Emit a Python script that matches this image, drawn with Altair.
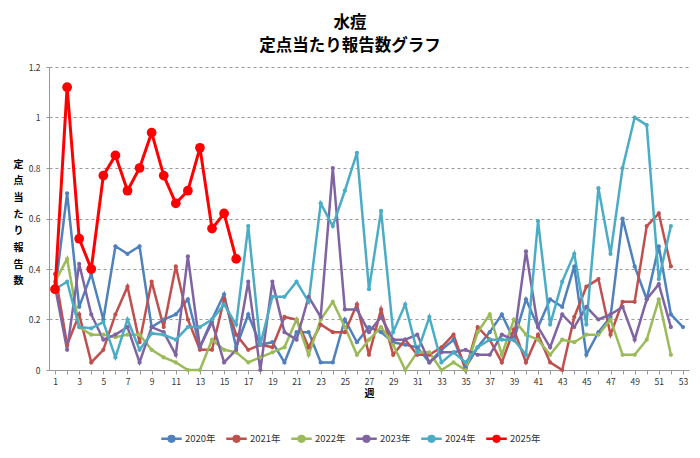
import altair as alt
import pandas as pd

weeks_all = list(range(1, 54))

y2020 = [0.31, 0.70, 0.25, 0.38, 0.20, 0.49, 0.46, 0.49, 0.17, 0.20, 0.22, 0.28, 0.09, 0.20, 0.30,
         0.09, 0.22, 0.10, 0.11, 0.03, 0.15, 0.15, 0.03, 0.03, 0.20, 0.11, 0.17, 0.15, 0.11, 0.10,
         0.09, 0.03, 0.08, 0.12, 0.01, 0.09, 0.15, 0.22, 0.12, 0.28, 0.17, 0.28, 0.25, 0.41, 0.06,
         0.15, 0.21, 0.60, 0.41, 0.28, 0.49, 0.22, 0.17]
y2021 = [0.38, 0.10, 0.22, 0.03, 0.08, 0.22, 0.33, 0.11, 0.35, 0.17, 0.41, 0.20, 0.08, 0.08, 0.28,
         0.14, 0.08, 0.10, 0.09, 0.21, 0.20, 0.09, 0.18, 0.15, 0.15, 0.26, 0.06, 0.24, 0.06, 0.12,
         0.06, 0.06, 0.09, 0.14, 0.00, 0.17, 0.12, 0.03, 0.16, 0.03, 0.14, 0.03, 0.00, 0.21, 0.33,
         0.36, 0.14, 0.27, 0.27, 0.57, 0.62, 0.41]
y2022 = [0.35, 0.44, 0.17, 0.14, 0.14, 0.13, 0.14, 0.14, 0.08, 0.05, 0.03, 0.00, 0.00, 0.12, 0.08,
         0.07, 0.03, 0.05, 0.07, 0.09, 0.20, 0.06, 0.20, 0.27, 0.17, 0.06, 0.12, 0.17, 0.10, 0.00,
         0.07, 0.07, 0.00, 0.03, 0.00, 0.15, 0.22, 0.06, 0.20, 0.14, 0.12, 0.06, 0.12, 0.11, 0.14,
         0.14, 0.20, 0.06, 0.06, 0.12, 0.28, 0.06]
y2023 = [0.33, 0.08, 0.42, 0.22, 0.12, 0.14, 0.17, 0.03, 0.17, 0.15, 0.06, 0.45, 0.09, 0.19, 0.03,
         0.08, 0.35, 0.00, 0.35, 0.15, 0.12, 0.29, 0.21, 0.80, 0.24, 0.24, 0.15, 0.21, 0.12, 0.12,
         0.14, 0.03, 0.07, 0.07, 0.08, 0.06, 0.06, 0.14, 0.12, 0.47, 0.17, 0.09, 0.22, 0.17, 0.25,
         0.20, 0.22, 0.25, 0.12, 0.28, 0.34, 0.17]
y2024 = [0.32, 0.35, 0.17, 0.165, 0.19, 0.05, 0.20, 0.08, 0.145, 0.14, 0.12, 0.17, 0.17, 0.20, 0.26,
         0.18, 0.57, 0.10, 0.29, 0.29, 0.35, 0.27, 0.66, 0.57, 0.71, 0.86, 0.32, 0.63, 0.15, 0.26,
         0.07, 0.21, 0.03, 0.07, 0.03, 0.09, 0.12, 0.12, 0.12, 0.06, 0.59, 0.18, 0.35, 0.46, 0.18,
         0.72, 0.46, 0.80, 1.00, 0.97, 0.36, 0.57]
y2025 = [0.32, 1.12, 0.52, 0.40, 0.77, 0.85, 0.71, 0.80, 0.94, 0.77, 0.66, 0.71, 0.88, 0.56, 0.62, 0.44]

year_labels = ["2020年", "2021年", "2022年", "2023年", "2024年", "2025年"]
year_colors = ["#4F81BD", "#C0504D", "#9BBB59", "#8064A2", "#4BACC6", "#FF0000"]
series = [y2020, y2021, y2022, y2023, y2024, y2025]

y_ticks = [0, 0.2, 0.4, 0.6, 0.8, 1.0, 1.2]
y_title_chars = ["定", "点", "当", "た", "り", "報", "告", "数"]
title_lines = ["水痘", "定点当たり報告数グラフ"]

rows = []
for lab, vals in zip(year_labels, series):
    for w, v in zip(weeks_all, vals):
        rows.append({"週": w, "値": v, "年": lab})
df = pd.DataFrame(rows)

FONT = "Noto Sans CJK JP"

x_enc = alt.X(
    "週:Q",
    scale=alt.Scale(domain=[0.5, 53.5], nice=False, zero=False),
    axis=alt.Axis(
        values=weeks_all,
        labelExpr="datum.value % 2 == 1 ? datum.label : ''",
        labelOverlap=False,
        labelFlush=False,
        title="週",
        titleFontWeight="bold",
        titleFontSize=10,
        titlePadding=3,
        grid=False,
        tickSize=4,
        tickColor="#999999",
        domainColor="#999999",
        labelFontSize=8.5,
        labelColor="#333333",
        labelPadding=3,
    ),
)
y_enc = alt.Y(
    "値:Q",
    scale=alt.Scale(domain=[0, 1.2], nice=False),
    axis=alt.Axis(
        values=y_ticks,
        format="~g",
        gridDash=[3, 3],
        gridColor="#9a9a9a",
        gridWidth=1,
        domainColor="#999999",
        tickSize=3,
        tickColor="#999999",
        labelFontSize=8.5,
        labelColor="#333333",
        labelPadding=6,
        title=y_title_chars,
        titleAngle=0,
        titleX=-31,
        titleY=92,
        titleAlign="center",
        titleBaseline="top",
        titleLineHeight=16.7,
        titleFontSize=10,
        titleFontWeight="bold",
    ),
)
color_enc = alt.Color(
    "年:N",
    scale=alt.Scale(domain=year_labels, range=year_colors),
    legend=alt.Legend(
        title=None,
        orient="none",
        direction="horizontal",
        legendX=111,
        legendY=360,
        symbolType="M-1,0H1M-0.28,0A0.28,0.28,0,1,1,0.28,0A0.28,0.28,0,1,1,-0.28,0",
        symbolSize=420,
        symbolStrokeWidth=2.5,
        labelFontSize=9.5,
        labelOffset=2,
        columnPadding=5,
        labelColor="#333333",
    ),
)

base = alt.Chart(df)
old = base.transform_filter(alt.datum["年"] != "2025年")
new = base.transform_filter(alt.datum["年"] == "2025年")

lines_old = old.mark_line(strokeWidth=2.5).encode(x=x_enc, y=y_enc, color=color_enc)
pts_old = old.mark_circle(size=18, opacity=1).encode(x=x_enc, y=y_enc, color=color_enc)
lines_new = new.mark_line(strokeWidth=3).encode(x=x_enc, y=y_enc, color=color_enc)
pts_new = new.mark_circle(size=95, opacity=1).encode(x=x_enc, y=y_enc, color=color_enc)

chart = (
    alt.layer(lines_old, pts_old, lines_new, pts_new)
    .properties(
        width=640,
        height=303,
        autosize=alt.AutoSizeParams(type="none"),
        padding={"left": 41, "top": 59, "right": 3, "bottom": 80},
        title=alt.TitleParams(
            text=title_lines,
            fontSize=16.5,
            fontWeight="bold",
            font=FONT,
            anchor="middle",
            dx=-19,
            offset=9,
            lineHeight=23,
            color="#000000",
        ),
    )
    .configure(font=FONT, background="white")
    .configure_view(strokeWidth=0)
)

chart.save("out.html", embed_options={"renderer": "svg", "actions": False})
